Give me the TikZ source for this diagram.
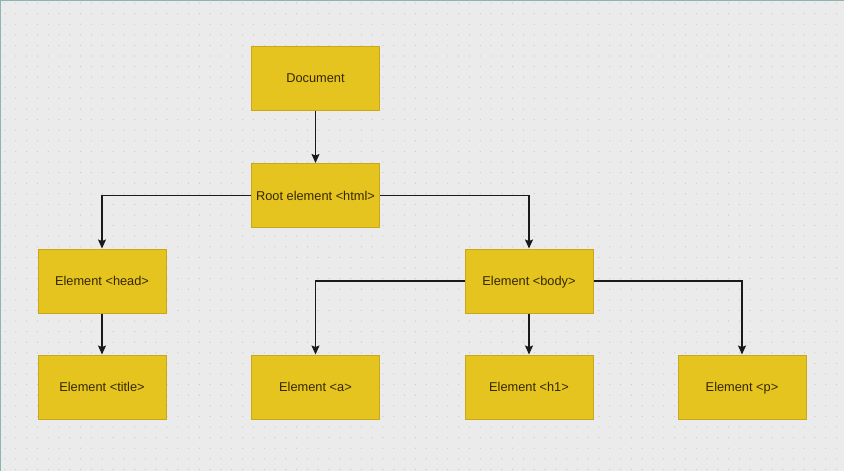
\documentclass[tikz,border=0pt]{standalone}
\usepackage{fontspec}
\setmainfont{Liberation Sans}
\usetikzlibrary{arrows.meta}
\definecolor{bg}{HTML}{EBEBEB}
\definecolor{dotc}{HTML}{CACACA}
\definecolor{boxfill}{HTML}{E5C420}
\definecolor{boxline}{HTML}{C8A71A}
\definecolor{txt}{HTML}{352800}
\definecolor{frame}{HTML}{8FB3B3}
\definecolor{linec}{HTML}{1A1A1A}
\tikzset{
  elem/.style={draw=boxline, line width=1pt, fill=boxfill, minimum width=128pt, minimum height=64pt,
    inner sep=0pt, text=txt, font=\fontsize{12.8}{15}\selectfont, text height=9pt, text depth=0pt},
  conn/.style={draw=linec, line width=1.2pt, -{Stealth[length=9pt,width=8pt,inset=1.5pt]}}
}
\begin{document}
\begin{tikzpicture}[x=1pt,y=-1pt]
\fill[bg] (0,0) rectangle (844,471);
\useasboundingbox (0,0) rectangle (844,471);
\foreach \i in {0,...,77}{
  \foreach \j in {0,...,44}{
    \fill[dotc] (5+\i*10.8,3+\j*10.6) circle (0.65);
  }
}
\draw[frame, line width=1.5pt] (0.5,471) -- (0.5,0.5) -- (844,0.5);

\node[elem] (doc)   at (315.5,78)  {Document};
\node[elem] (root)  at (315.5,195.5) {Root element <html>};
\node[elem] (head)  at (102,281)   {Element <head>};
\node[elem] (body)  at (529,281)   {Element <body>};
\node[elem] (title) at (102,387)   {Element <title>};
\node[elem] (a)     at (315.5,387) {Element <a>};
\node[elem] (h1)    at (529,387)   {Element <h1>};
\node[elem] (p)     at (742,387)   {Element <p>};

\draw[conn] (doc.south) -- (root.north);
\draw[conn] (root.west) -| (head.north);
\draw[conn] (root.east) -| (body.north);
\draw[conn] (head.south) -- (title.north);
\draw[conn] (body.west) -| (a.north);
\draw[conn] (body.south) -- (h1.north);
\draw[conn] (body.east) -| (p.north);
\end{tikzpicture}
\end{document}
